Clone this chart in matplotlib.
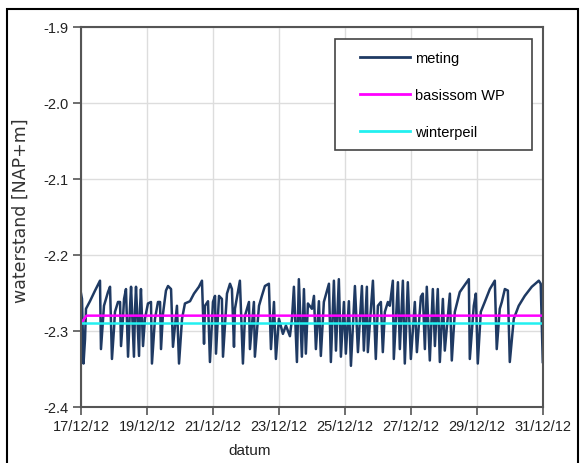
import numpy as np
import pandas as pd
import matplotlib
matplotlib.use("Agg")
import matplotlib.pyplot as plt
import matplotlib.dates as mdates
from matplotlib.patches import Rectangle
from matplotlib.legend_handler import HandlerLine2D

plt.rcParams['font.family'] = ['Liberation Sans', 'DejaVu Sans']

start = pd.Timestamp("2012-12-17 00:00")
end = pd.Timestamp("2012-12-31 00:00")

# meting: hours since 17/12/12 00:00 and water level [NAP+m]
uren = [0, 0.7, 1.8, 2.9, 3.6, 6.5, 10.2, 13.8, 14.5, 16.0, 16.7, 19.6, 21.1, 22.5, 24.0,
        24.7, 26.9, 28.4, 29.1, 30.5, 31.3, 32.7, 34.2, 35.6, 36.4, 38.5, 39.3, 40.0, 42.2,
        42.9, 43.6, 45.1, 46.5, 48.7, 50.9, 51.6, 53.8, 56.0, 57.5, 58.2, 59.6, 61.8, 63.3,
        65.5, 66.9, 69.8, 71.3, 73.5, 75.6, 79.3, 82.2, 85.8, 88.0, 89.5, 90.2, 92.4, 93.8,
        96.0, 97.5, 98.2, 100.4, 102.5, 103.3, 106.2, 108.4, 109.8, 111.3, 112.0, 115.6,
        117.8, 119.3, 122.2, 122.9, 125.8, 126.5, 129.5, 131.6, 133.8, 136.7, 138.2, 140.4,
        141.8, 144.0, 146.9, 149.1, 152.0, 153.5, 154.9, 157.1, 158.5, 160.7, 162.2, 163.6,
        165.1, 168.0, 169.5, 170.9, 173.1, 174.5, 176.7, 180.4, 181.8, 184.0, 185.5, 187.6,
        189.1, 191.3, 192.7, 194.9, 196.4, 199.3, 201.5, 204.4, 205.8, 208.0, 208.7, 212.4,
        214.5, 216.0, 218.2, 219.6, 221.1, 223.3, 224.7, 226.9, 227.6, 230.6, 232.0, 234.2,
        235.6, 237.8, 240.0, 242.9, 244.4, 247.3, 248.7, 250.2, 251.6, 253.8, 256.0, 257.5,
        259.6, 261.1, 263.3, 264.7, 268.4, 269.8, 272.0, 275.6, 280.7, 282.2, 282.9, 285.8,
        287.3, 288.7, 290.9, 293.8, 297.5, 301.1, 302.5, 304.7, 306.2, 308.4, 310.6, 312.0,
        314.9, 318.5, 322.9, 328.0, 333.1, 334.5, 336.0]
meting = [-2.251, -2.258, -2.343, -2.311, -2.271, -2.261, -2.247, -2.234, -2.324, -2.284,
          -2.267, -2.249, -2.242, -2.337, -2.297, -2.275, -2.262, -2.262, -2.320, -2.284,
          -2.258, -2.245, -2.334, -2.271, -2.242, -2.334, -2.271, -2.242, -2.333, -2.271,
          -2.245, -2.320, -2.284, -2.264, -2.262, -2.343, -2.284, -2.262, -2.262, -2.324,
          -2.278, -2.247, -2.241, -2.245, -2.321, -2.267, -2.343, -2.284, -2.264, -2.261,
          -2.251, -2.242, -2.234, -2.317, -2.267, -2.261, -2.341, -2.262, -2.254, -2.330,
          -2.254, -2.258, -2.334, -2.251, -2.238, -2.245, -2.321, -2.271, -2.234, -2.343,
          -2.280, -2.262, -2.324, -2.262, -2.334, -2.267, -2.254, -2.241, -2.238, -2.324,
          -2.262, -2.337, -2.284, -2.304, -2.293, -2.307, -2.284, -2.242, -2.341, -2.232,
          -2.334, -2.245, -2.330, -2.264, -2.271, -2.254, -2.324, -2.261, -2.333, -2.262,
          -2.238, -2.341, -2.234, -2.326, -2.232, -2.334, -2.262, -2.330, -2.261, -2.346,
          -2.241, -2.328, -2.241, -2.326, -2.242, -2.328, -2.234, -2.337, -2.267, -2.262,
          -2.328, -2.275, -2.262, -2.267, -2.234, -2.337, -2.236, -2.324, -2.234, -2.343,
          -2.236, -2.337, -2.262, -2.328, -2.255, -2.251, -2.324, -2.242, -2.339, -2.245,
          -2.320, -2.245, -2.341, -2.258, -2.326, -2.251, -2.339, -2.275, -2.249, -2.236,
          -2.232, -2.337, -2.267, -2.251, -2.343, -2.275, -2.262, -2.245, -2.234, -2.324,
          -2.271, -2.262, -2.245, -2.247, -2.341, -2.284, -2.267, -2.254, -2.242, -2.234,
          -2.238, -2.341]

# basissom WP and winterpeil
wp_uren = [0, 4, 336]
basissom_wp = [-2.29, -2.28, -2.28]
winterpeil = [-2.29, -2.29, -2.29]

t_meting = start + pd.to_timedelta(uren, unit="h")
t_wp = start + pd.to_timedelta(wp_uren, unit="h")

fig = plt.figure(figsize=(5.83, 4.64), dpi=100)
ax = fig.add_axes([0.139, 0.121, 0.792, 0.819])

# frame around whole picture
fig.patches.append(Rectangle((7 / 583, -0.05), 571 / 583, 1.05 - 10 / 464,
                             transform=fig.transFigure, fill=False,
                             edgecolor="black", linewidth=1.5))

l1, = ax.plot(t_meting, meting, color="#1f3a63", linewidth=1.8, label="meting")
l2, = ax.plot(t_wp, basissom_wp, color="#ff00ff", linewidth=1.8, label="basissom WP")
l3, = ax.plot(t_wp, winterpeil, color="#22f0f0", linewidth=1.8, label="winterpeil")

ax.set_xlim(start, end)
ax.set_ylim(-2.4, -1.9)
ax.set_yticks([-2.4, -2.3, -2.2, -2.1, -2.0, -1.9])
ax.set_yticklabels(["-2.4", "-2.3", "-2.2", "-2.1", "-2.0", "-1.9"])
ax.xaxis.set_major_locator(mdates.DayLocator(interval=2))
ax.xaxis.set_major_formatter(mdates.DateFormatter("%d/%m/%y"))

ax.grid(True, color="#dddddd", linewidth=1)
ax.set_axisbelow(True)
for s in ax.spines.values():
    s.set_color("#555555")
    s.set_linewidth(1.5)
ax.tick_params(axis="both", direction="out", length=6, width=1.2, pad=3, colors="#555555",
               labelcolor="#222222", labelsize=10.5)

ax.set_xlabel("datum", fontsize=11, color="#222222")
ax.xaxis.set_label_coords(0.366, -0.095)
ax.set_ylabel("waterstand [NAP+m]", fontsize=12.5, color="#333333", family="DejaVu Sans")
ax.yaxis.set_label_coords(-0.112, 0.52)

hl = HandlerLine2D(xpad=0.9)
leg = ax.legend(handles=[l1, l2, l3], loc="upper right",
                bbox_to_anchor=(0.550, 0.684, 0.426, 0.284), mode="expand",
                fancybox=False, edgecolor="#444444", framealpha=1, fontsize=10.5,
                labelspacing=1.58, handlelength=4.33, borderpad=0.8, handletextpad=0.35,
                borderaxespad=0, handler_map={l1: hl, l2: hl, l3: hl})
leg.get_frame().set_linewidth(1.2)
for h in leg.get_lines():
    h.set_linewidth(2)

plt.savefig("out.png", dpi=100)
